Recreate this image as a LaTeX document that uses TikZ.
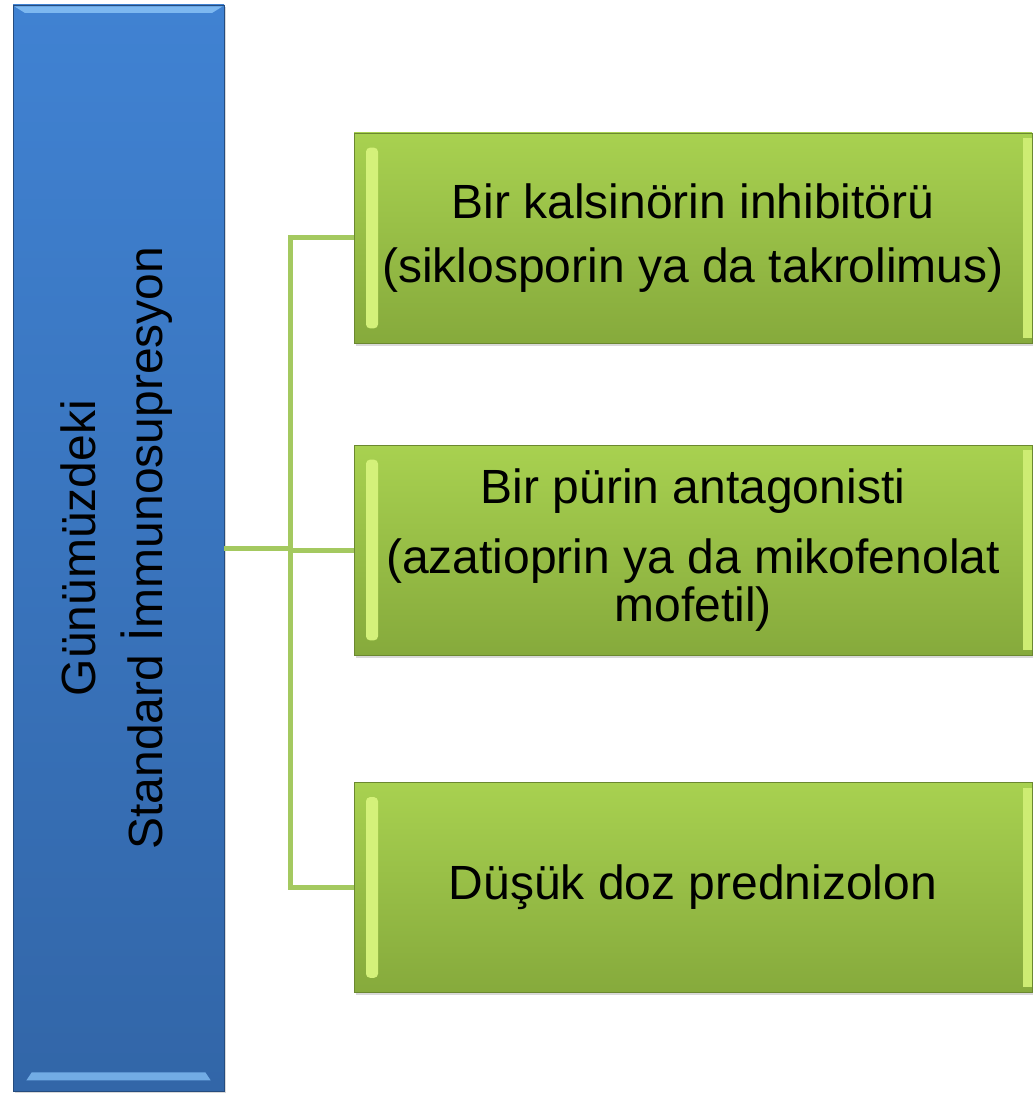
\documentclass[tikz,border=0pt]{standalone}
\usepackage{fontspec}
\usepackage{graphicx}
\setmainfont{Liberation Sans}
\usetikzlibrary{positioning, shadows}

\definecolor{bluetop}{RGB}{64,130,210}
\definecolor{bluebot}{RGB}{50,102,168}
\definecolor{bluelite}{RGB}{125,184,240}
\definecolor{greentop}{RGB}{168,209,80}
\definecolor{greenbot}{RGB}{134,170,60}
\definecolor{greenlite}{RGB}{220,247,130}
\definecolor{linkgreen}{RGB}{164,201,96}

\tikzset{
  stdbox/.style={rectangle, draw=bluebot!75!black, line width=0.5pt,
    top color=bluetop, bottom color=bluebot,
    minimum width=158.25pt, minimum height=814.5pt, inner sep=0pt,
    drop shadow={shadow xshift=1.5pt, shadow yshift=-1.5pt, opacity=0.3},
    font=\fontsize{36}{35.5}\selectfont,
    path picture={
      \fill[bluelite] ([xshift=1pt,yshift=-1pt]path picture bounding box.north west)
        -- ([xshift=-1pt,yshift=-1pt]path picture bounding box.north east)
        -- ([xshift=-9pt,yshift=-6pt]path picture bounding box.north east)
        -- ([xshift=9pt,yshift=-6pt]path picture bounding box.north west) -- cycle;
      \fill[bluelite!85!bluebot] ([xshift=14pt,yshift=14pt]path picture bounding box.south west)
        -- ([xshift=-14pt,yshift=14pt]path picture bounding box.south east)
        -- ([xshift=-10pt,yshift=8pt]path picture bounding box.south east)
        -- ([xshift=10pt,yshift=8pt]path picture bounding box.south west) -- cycle;
    }},
  drugbox/.style={rectangle, draw=greenbot!80!black, line width=0.5pt,
    top color=greentop, bottom color=greenbot,
    minimum width=508.5pt, minimum height=157.5pt, inner sep=0pt,
    align=center, font=\fontsize{36}{35.5}\selectfont,
    drop shadow={shadow xshift=1.5pt, shadow yshift=-2pt, opacity=0.3},
    path picture={
      \fill[greenlite!85!greentop, rounded corners=3pt]
        ([xshift=9pt,yshift=-11pt]path picture bounding box.north west)
        rectangle ([xshift=18pt,yshift=11pt]path picture bounding box.south west);
      \fill[greenlite!70!greentop]
        ([xshift=-7pt,yshift=-4pt]path picture bounding box.north east)
        rectangle ([yshift=4pt]path picture bounding box.south east);
    }},
  link/.style={draw=linkgreen, line width=3.75pt}
}

\begin{document}
\begin{tikzpicture}[node distance=240pt, on grid]
  \useasboundingbox (0,0) rectangle (774pt,-820.5pt);

  \node[stdbox] (std) at (88.9pt,-411pt)
    {\rotatebox{90}{\begin{tabular}{@{}c@{}}Günümüzdeki\\[8pt]Standard İmmunosupresyon\end{tabular}}};

  \node[drugbox] (cni) at (519.75pt,-178.5pt)
    {Bir kalsinörin inhibitörü\\[13pt](siklosporin ya da takrolimus)};
  \node[drugbox] (pur) [below=234pt of cni]
    {Bir pürin antagonisti\\[17pt](azatioprin ya da mikofenolat\\mofetil)};
  \node[drugbox] (pred) [below=253.1pt of pur] {Düşük doz prednizolon};

  \coordinate (hub) at (217.5pt,-411pt);

  % bracket from the blue column to the three boxes
  \draw[link] (std.east) -- (hub);
  \draw[link] (cni.west) -| (hub) |- (pred.west);
  \draw[link] (hub |- pur.west) -- (pur.west);
\end{tikzpicture}
\end{document}
